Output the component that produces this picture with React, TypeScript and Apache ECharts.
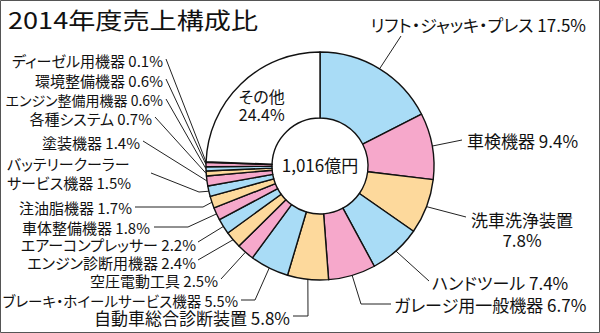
import React, { useEffect, useRef } from "react";
import * as echarts from "echarts";

const chartTitle = "2014年度売上構成比";
const totalLabel = "1,016億円";
const categories = [
  "リフト・ジャッキ・プレス",
  "車検機器",
  "洗車洗浄装置",
  "ハンドツール",
  "ガレージ用一般機器",
  "自動車総合診断装置",
  "ブレーキ・ホイールサービス機器",
  "空圧電動工具",
  "エンジン診断用機器",
  "エアーコンプレッサー",
  "車体整備機器",
  "注油脂機器",
  "バッテリークーラー\nサービス機器",
  "塗装機器",
  "各種システム",
  "エンジン整備用機器",
  "環境整備機器",
  "ディーゼル用機器",
  "その他",
];
const shares = [17.5, 9.4, 7.8, 7.4, 6.7, 5.8, 5.5, 2.5, 2.4, 2.2, 1.8, 1.7, 1.5, 1.4, 0.7, 0.6, 0.6, 0.1, 24.4];

const palette = ["#a9dcf6", "#f6a8cb", "#fdd99c"];

type Pt = [number, number];
type LabelPos = { x: number; y: number; align: "left" | "right" | "center"; size: number; end: Pt; bend?: Pt; wrap?: boolean };

const labelLayouts: (LabelPos | null)[] = [
  { x: 586, y: 24, align: "right", size: 17, end: [401, 36] },
  { x: 467, y: 140, align: "left", size: 17, end: [462, 140] },
  { x: 522, y: 229, align: "center", size: 17, end: [466, 217], wrap: true },
  { x: 432, y: 282, align: "left", size: 17, end: [429, 281] },
  { x: 394, y: 304, align: "left", size: 17, end: [391, 304], bend: [361, 304] },
  { x: 290, y: 317, align: "right", size: 17, end: [293, 316], bend: [308, 316] },
  { x: 238, y: 300, align: "right", size: 14.5, end: [241, 300], bend: [255, 300] },
  { x: 218, y: 280, align: "right", size: 15, end: [221, 279] },
  { x: 196, y: 262, align: "right", size: 15, end: [198, 260] },
  { x: 196, y: 244, align: "right", size: 15, end: [198, 242] },
  { x: 150, y: 227, align: "right", size: 15, end: [154, 227], bend: [188, 227] },
  { x: 132, y: 207, align: "right", size: 15, end: [135, 207], bend: [203, 207] },
  { x: 7, y: 173, align: "left", size: 15, end: [151, 173], bend: [199, 192] },
  { x: 140, y: 142, align: "right", size: 15, end: [143, 141] },
  { x: 152, y: 118, align: "right", size: 15, end: [155, 117] },
  { x: 163, y: 100, align: "right", size: 14, end: [166, 99] },
  { x: 163, y: 80, align: "right", size: 15, end: [166, 79] },
  { x: 163, y: 60, align: "right", size: 15, end: [166, 59] },
  null,
];

const FONT = '"Noto Sans CJK JP", "Noto Sans", sans-serif';

export default function App() {
  const ref = useRef<HTMLDivElement>(null);
  useEffect(() => {
    if (!ref.current) return;
    const chart = echarts.init(ref.current, null, { renderer: "svg" });
    const last = categories.length - 1;
    const data = categories.map((name, i) => {
      const isOther = i === last;
      const L = labelLayouts[i];
      return {
        name,
        value: shares[i],
        itemStyle: { color: isOther ? "#ffffff" : palette[i % 3] },
        label: isOther
          ? { position: "inside", formatter: "{b}\n{c}%", align: "center", fontSize: 16, lineHeight: 18 }
          : { fontSize: L ? L.size : 15, lineHeight: L && L.size > 15 ? 20 : 19 },
        labelLine: isOther ? { show: false } : undefined,
      };
    });
    chart.setOption({
      animation: false,
      textStyle: { fontFamily: FONT },
      graphic: [
        {
          type: "rect",
          shape: { x: 0.5, y: 0.5, width: 599, height: 332 },
          style: { fill: "none", stroke: "#555", lineWidth: 1 },
          silent: true,
        },
        {
          type: "text",
          x: 8,
          y: 7,
          scaleX: 1.18,
          style: { text: chartTitle, font: `23px ${FONT}`, fill: "#111", textVerticalAlign: "top" },
        },
        {
          type: "text",
          x: 320,
          y: 164,
          z: 10,
          style: {
            text: totalLabel,
            font: `17px ${FONT}`,
            fill: "#111",
            textAlign: "center",
            textVerticalAlign: "middle",
          },
        },
      ],
      series: [
        {
          type: "pie",
          center: [320, 166],
          radius: [48, 114],
          startAngle: 90,
          clockwise: true,
          avoidLabelOverlap: false,
          itemStyle: { borderColor: "#111", borderWidth: 1.4 },
          label: {
            show: true,
            color: "#111",
            fontSize: 15,
            lineHeight: 19,
            width: 320,
            formatter: (p: any) => {
              const L = labelLayouts[p.dataIndex];
              const sep = L && L.wrap ? "\n" : " ";
              return `${p.name}${sep}${p.value}%`;
            },
          },
          labelLine: { show: true, length: 10, length2: 10, lineStyle: { color: "#222", width: 1 } },
          labelLayout: (params: any) => {
            const L = labelLayouts[params.dataIndex];
            if (!L) return {};
            const a: Pt = params.labelLinePoints ? [params.labelLinePoints[0][0], params.labelLinePoints[0][1]] : L.end;
            const pts = L.bend ? [a, L.bend, L.end] : [a, L.end];
            return { x: L.x, y: L.y, align: L.align, verticalAlign: "middle", labelLinePoints: pts };
          },
          data,
        },
      ],
    });
    return () => chart.dispose();
  }, []);
  return (
    <>
      <style>{`#root svg text { font-feature-settings: "palt"; }`}</style>
      <div ref={ref} style={{ position: "absolute", left: 0, top: 0, width: 600, height: 333, background: "#fff" }} />
    </>
  );
}
